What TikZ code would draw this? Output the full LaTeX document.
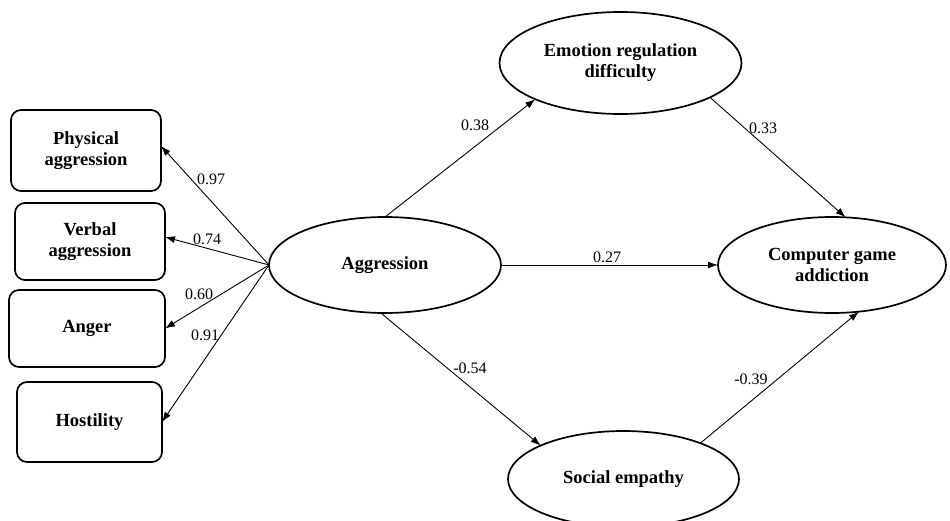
\documentclass[tikz,border=0pt]{standalone}
\usepackage{fontspec}
\setmainfont{Liberation Serif}
\usetikzlibrary{shapes.geometric,arrows.meta}
\begin{document}
\begin{tikzpicture}[x=1pt,y=-1pt,
  lat/.style={ellipse,draw,line width=1.7pt,inner sep=0pt,outer sep=0pt,align=center,font=\fontsize{18.5}{21}\selectfont\bfseries},
  obs/.style={rectangle,rounded corners=10pt,draw,line width=1.7pt,inner sep=0pt,outer sep=0pt,align=center,font=\fontsize{18.5}{21.5}\selectfont\bfseries},
  arr/.style={-{Latex[length=10pt,width=7pt]},line width=0.9pt},
  coef/.style={inner sep=0pt,font=\fontsize{16}{18}\selectfont}
]
\clip (0,0) rectangle (950,521);
\useasboundingbox (0,0) rectangle (950,521);

% indicators
\node[obs,minimum width=150pt,minimum height=81pt] (phys) at (86,150.5) {Physical\\aggression};
\node[obs,minimum width=150pt,minimum height=77pt] (verb) at (90,241.5) {Verbal\\aggression};
\node[obs,minimum width=156pt,minimum height=77pt] (ang) at (87,328.5) {Anger};
\node[obs,minimum width=145pt,minimum height=80pt] (host) at (89.5,422) {Hostility};

% latent variables
\node[lat,minimum width=232pt,minimum height=96pt] (agg) at (385,265) {Aggression};
\node[lat,minimum width=242pt,minimum height=102pt] (emo) at (620.5,63) {Emotion regulation\\difficulty};
\node[lat,minimum width=228pt,minimum height=96pt] (cga) at (832,265) {Computer game\\addiction};
\node[lat,minimum width=231pt,minimum height=96pt] (soc) at (623.5,479) {Social empathy};

% loadings
\draw[arr] (agg.west) -- ([yshift=4.5pt]phys.east);
\draw[arr] (agg.west) -- ([yshift=4.5pt]verb.east);
\draw[arr] (agg.west) -- (ang.east);
\draw[arr] (agg.west) -- (host.east);

% structural paths
\draw[arr] (agg.north) -- (emo.203);
\draw[arr] (emo.339) -- (cga.74);
\draw[arr] (agg.east) -- (cga.west);
\draw[arr] (agg.265) -- (soc.158);
\draw[arr] (soc.25) -- (cga.300);

% coefficients
\node[coef] (c1) at (211,179) {0.97};
\node[coef] (c2) at (207,239) {0.74};
\node[coef] (c3) at (199,294) {0.60};
\node[coef] (c4) at (205,335) {0.91};
\node[coef] (c5) at (475,125) {0.38};
\node[coef] (c6) at (763,128) {0.33};
\node[coef] (c7) at (607,257) {0.27};
\node[coef] (c8) at (470,368) {-0.54};
\node[coef] (c9) at (751,379) {-0.39};
\end{tikzpicture}
\end{document}
